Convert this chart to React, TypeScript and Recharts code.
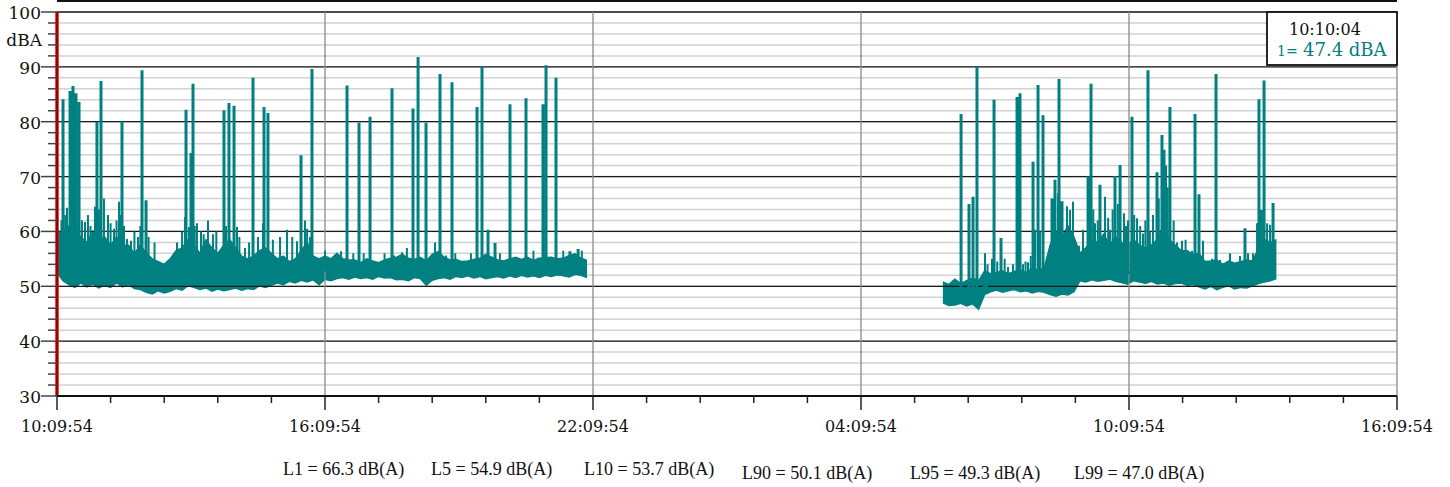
import {
  Area,
  CartesianGrid,
  ComposedChart,
  Line,
  ReferenceLine,
  XAxis,
  YAxis,
} from "recharts"

const TEAL = "#008080"
const SERIF = "'DejaVu Serif', serif"

// x axis: minutes from the start of the record (10:09:54)
const timeTicks = [
  0, 72, 144, 216, 288, 360, 432, 504, 576, 648, 720, 792, 864, 936, 1008, 1080,
  1152, 1224, 1296, 1368, 1440, 1512, 1584, 1656, 1728, 1800,
]
const timeLabels = ["10:09:54", "16:09:54", "22:09:54", "04:09:54", "10:09:54", "16:09:54"]
const hourLines = [360, 720, 1080, 1440, 1800]

const levelTicks = [
  30, 32, 34, 36, 38, 40, 42, 44, 46, 48, 50, 52, 54, 56, 58, 60, 62, 64, 66, 68,
  70, 72, 74, 76, 78, 80, 82, 84, 86, 88, 90, 92, 94, 96, 98, 100,
]
const majorLevels = [40, 50, 60, 70, 80, 90, 100]

// background level, min / max per 8-minute block
const blockMinutes = 8
const day1Start = 0
const day1Lo = [
  52.5, 51, 50.3, 49.8, 50.6, 49.9, 50.4, 49.7, 50.2, 49.8,
  50.6, 49.9, 50.3, 49.6, 49.4, 48.9, 48.6, 49.2, 48.8, 49.1,
  49.6, 49.3, 50.1, 49.8, 49.4, 49.7, 49.1, 49.5, 49.2, 49.4,
  49.7, 49.3, 49.6, 49.4, 50.1, 49.8, 50.2, 50.6, 50.3, 50.9,
  50.6, 51.1, 50.8, 51.2, 50.3, 51.3, 51, 51.4, 51.6, 51.3,
  51.7, 51.4, 51.6, 51.3, 51.8, 51.5, 51.6, 51.2, 51.3, 51,
  51.6, 51.4, 50.2, 51.1, 51.4, 51.6, 51.3, 51.8, 51.6, 51.9,
  51.5, 51.8, 51.4, 51.6, 51.8, 51.5, 51.9, 51.6, 52, 51.7,
  51.9, 51.6, 52, 51.8, 52.1, 51.9, 51.7, 52.2, 52, 51.6,
]
const day1Hi = [
  59.5, 60, 61, 60, 59, 58, 60, 58.5, 59, 57.5,
  59, 57.5, 57.5, 56, 57.5, 56, 55, 54.5, 54, 55,
  56.5, 57, 58.5, 57.5, 56, 58.5, 57, 56, 57.5, 58.5,
  57, 55.5, 55, 55.5, 56.5, 57, 56, 55, 55.5, 54.5,
  55, 56.5, 58, 55.5, 55, 55.5, 55, 56, 55, 54.8,
  54.8, 54.3, 55, 54.6, 54.3, 54.8, 55.1, 55.3, 55.8, 55.1,
  54.9, 55.3, 54.6, 55.8, 56.3, 55.3, 54.8, 54.9, 54.5, 54.6,
  54.9, 55.1, 55.8, 55.3, 54.8, 54.6, 55, 55.3, 54.9, 55.3,
  54.7, 55.1, 55.2, 55.3, 55, 55.1, 55.6, 55.9, 55.1, 54.7,
]
const day2Start = 1190
const day2Lo = [
  47, 46.5, 46.6, 46.9, 46.4, 46.8, 45.8, 48.5, 49, 49.3,
  48.9, 49.2, 49.4, 49, 49.2, 48.8, 49.1, 48.9, 48.5, 48.2,
  48.6, 48.4, 49, 51, 50.8, 51.2, 50.9, 51.1, 51.3, 50.9,
  50.7, 50.4, 51, 50.8, 50.5, 50.9, 50.4, 50.6, 50.2, 50.5,
  50.6, 50.2, 50.3, 49.9, 49.5, 50, 49.4, 49.8, 50.1, 49.5,
  49.8, 49.7, 50.1, 50.5, 50.8, 51, 51.4,
]
const day2Hi = [
  50.8, 50.3, 51.3, 50.5, 51, 51.5, 51, 52.8, 52.3, 52.5,
  52.8, 52.3, 52.7, 53, 52.5, 53.3, 52.9, 53.3, 57.5, 60,
  59, 61, 59, 56, 57, 58.5, 58, 59.5, 57.5, 59,
  58, 57.5, 58.5, 57.5, 57, 57.5, 58.5, 61, 58.5, 57.5,
  56.5, 56.5, 55.8, 56, 54.5, 54.6, 54.8, 54, 54.6, 54.2,
  54.5, 54.8, 54.6, 57, 58.5, 58, 58.5,
]

// loud events: [minute, level before the event, peak level]
const day1Events = [
  [8.1, 53, 84.1], [17.5, 53, 85.6], [21.5, 53, 86.5], [25.5, 53, 85.2], [29.6, 53, 83.6],
  [53.7, 53, 80], [59.1, 53, 87.4], [87.3, 53, 80.1], [114.2, 53, 89.4], [119.6, 53, 65.7],
  [173.3, 53, 82.2], [180, 53, 74.3], [182.7, 53, 86.9], [224.3, 53, 82.1], [231, 53, 83.4],
  [237.8, 53, 82.9], [263.3, 53, 88], [278.1, 53, 82.7], [283.4, 53, 81.6], [327.8, 53, 73.9],
  [342.5, 53, 89.6], [389.6, 53, 86.6], [405.7, 53, 79.8], [420.5, 53, 80.9], [450, 53, 86.1],
  [478.2, 53, 82.4], [485, 53, 91.8], [495.7, 53, 79.8], [514.5, 53, 88.7], [530.6, 53, 87.2],
  [564.2, 53, 82.7], [570.9, 53, 90], [579, 53, 60.3], [588.4, 53, 57.9], [608.5, 53, 83.2],
  [630, 53, 84.3], [652.8, 53, 83.2], [656.9, 53, 90.3], [670.3, 53, 88], [689, 53, 56.4],
  [700, 53, 56.8],
]
const day2Events = [
  [1214.4, 49, 81.4], [1225.1, 49, 65], [1230.5, 49, 66.3], [1235.8, 49, 90], [1258.7, 51, 84],
  [1268.1, 51, 58.8], [1289.6, 51, 84.5], [1293.6, 51, 85.2], [1311.1, 51, 72.7], [1317.8, 51, 86.7],
  [1324.5, 51, 81.2], [1336.6, 51, 66], [1340.6, 51, 69.4], [1346, 51, 87.8], [1350, 51, 65.5],
  [1385, 52.5, 70], [1389, 52.5, 86.9], [1401, 52.5, 68.5], [1421.2, 52.5, 70.1], [1428, 52.5, 72.1],
  [1444, 52.5, 80.9], [1465.5, 52.5, 89.4], [1477.6, 52.5, 70.8], [1484.3, 52.5, 77.6], [1487, 52.5, 74.9],
  [1495, 52.5, 82.7], [1528.7, 52.5, 81.4], [1534, 52.5, 66.8], [1556.9, 52.5, 88.7], [1595.8, 52.5, 60.6],
  [1614.6, 52.5, 84.1], [1617.3, 52.5, 63.9], [1621.4, 52.5, 87.5], [1633.5, 52.5, 65.2],
]

// smaller bursts above the background
const day1Bursts = [
  [1, 53, 60], [4, 53, 59.8], [6, 53, 62], [11, 53, 63], [13.4, 53, 64.3],
  [33.5, 53, 62], [37.6, 53, 61.7], [41.6, 53, 63], [45, 53, 61], [51, 53, 64.5],
  [56.5, 53, 64], [63.1, 53, 66], [68.5, 53, 63], [72, 53, 61.5], [76.6, 53, 60.5],
  [80, 53, 62], [83.3, 53, 65.4], [86, 53, 63], [90, 53, 61], [94, 53, 58.6],
  [99.4, 53, 58.3], [104, 53, 60], [108.8, 53, 59], [112, 53, 61], [123, 53, 59],
  [131, 53, 58], [161.2, 53, 58], [168, 53, 60], [172, 53, 62.6], [177.3, 53, 60.8],
  [185, 53, 61], [188, 53, 61.5], [193.4, 53, 60], [197, 53, 59.5], [202.8, 53, 62],
  [209.6, 53, 59.5], [214, 53, 60], [220.3, 53, 56.6], [227, 53, 61], [241.8, 53, 60.8],
  [245, 53, 59], [252.5, 53, 57], [258, 53, 58], [270, 53, 59], [276.7, 53, 61.5],
  [290, 53, 58.5], [299.6, 53, 59], [309, 53, 60.3], [316, 53, 59], [322.4, 53, 58.2],
  [333.1, 53, 62], [336, 53, 60.5], [339.9, 53, 59], [360, 53, 56.5], [381.5, 53, 56.4],
  [398, 53, 56], [412, 53, 56], [440, 53, 56], [452.7, 53, 55.6], [463.4, 53, 56.2],
  [470, 53, 57], [507.8, 53, 58], [522.5, 53, 55.6], [535, 53, 56], [556, 53, 56],
  [595, 53, 56], [619.3, 53, 54.8], [640, 53, 56.5], [646.1, 53, 55.2], [680, 53, 56.5],
  [705, 53, 56.5],
]
const day2Bursts = [
  [1246.6, 51, 56], [1250, 51, 54], [1256, 51, 55], [1263, 51, 54.5], [1273, 51, 55],
  [1277.5, 51, 53.5], [1284.2, 51, 54], [1297.6, 51, 54], [1301, 51, 54.5], [1304.3, 51, 54.4],
  [1308, 51, 55.5], [1313.7, 51, 60.3], [1320.4, 51, 60], [1329.9, 51, 54.5], [1344.7, 51, 66.9],
  [1356.7, 51, 64.6], [1360.8, 51, 63.9], [1364.8, 51, 65.4], [1372.9, 52.5, 57.4], [1378.2, 52.5, 60.3],
  [1392, 52.5, 64], [1394.3, 52.5, 61.5], [1398, 52.5, 62], [1407.8, 52.5, 66.3], [1412, 52.5, 62.5],
  [1414.5, 52.5, 60.3], [1418, 52.5, 64], [1425, 52.5, 65], [1433.3, 52.5, 63.3], [1436, 52.5, 61],
  [1438.7, 52.5, 62], [1447, 52.5, 63], [1450.8, 52.5, 62.4], [1455, 52.5, 61], [1458.8, 52.5, 59.6],
  [1462, 52.5, 62], [1468, 52.5, 60], [1472.2, 52.5, 63], [1480, 52.5, 66], [1489.7, 52.5, 72],
  [1492, 52.5, 68], [1500, 52.5, 62], [1504.5, 52.5, 58], [1511.2, 52.5, 58.3], [1516, 52.5, 58.5],
  [1519.3, 52.5, 56.5], [1524.7, 52.5, 56.5], [1539.4, 52.5, 58.3], [1551.5, 52.5, 55], [1562.3, 52.5, 54.8],
  [1575.7, 52.5, 56], [1589.1, 52.5, 55.5], [1599.9, 52.5, 56], [1606.6, 52.5, 56], [1612, 52.5, 61.5],
  [1625.5, 52.5, 61.5], [1629.5, 52.5, 61.2],
]

const statNames = ["L1", "L5", "L10", "L90", "L95", "L99"]
const statValues = [66.3, 54.9, 53.7, 50.1, 49.3, 47.0]
const statX = [283, 431, 584, 742, 910, 1074]
const statY = [475, 475, 475, 479, 479, 479]

const cursorTime = "10:10:04"
const cursorLevel = 47.4

const blocks = (start: number, lo: number[], hi: number[]) =>
  lo.map((l, i) => ({ t: start + i * blockMinutes, level: [l, hi[i]] }))

const peaks = (list: number[][]) =>
  list.flatMap(([t, base, peak]) => [
    { t, level: base },
    { t, level: peak },
    { t, level: base },
  ])

const bands = [blocks(day1Start, day1Lo, day1Hi), blocks(day2Start, day2Lo, day2Hi)]
const bursts = [peaks(day1Bursts), peaks(day2Bursts)]
const events = [peaks(day1Events), peaks(day2Events)]

function TimeTick({ x, y, payload }: any) {
  const major = payload.value % 360 === 0
  return (
    <g>
      <line x1={x} x2={x} y1={y} y2={y + (major ? 14 : 7)} stroke="#222" strokeWidth={1.5} />
      {major && (
        <text x={x} y={y + 36} textAnchor="middle" fontSize={16} fontFamily={SERIF} fill="#111">
          {timeLabels[payload.value / 360]}
        </text>
      )}
    </g>
  )
}

function LevelTick({ x, y, payload }: any) {
  const major = payload.value % 10 === 0
  return (
    <g>
      <line x1={x - (major ? 16 : 9)} x2={x} y1={y} y2={y} stroke="#444" strokeWidth={1.5} />
      {major && (
        <text x={x - 16} y={y + 7} textAnchor="end" fontSize={17} fontFamily={SERIF} fill="#111">
          {payload.value}
        </text>
      )}
    </g>
  )
}

export default function App() {
  return (
    <div
      style={{
        position: "absolute",
        left: 0,
        top: 0,
        width: 1450,
        height: 487,
        background: "#fff",
      }}
    >
      <ComposedChart width={1450} height={440} margin={{ top: 12, right: 53, bottom: 0, left: 0 }}>
        <CartesianGrid horizontal vertical={false} stroke="#d2d2d2" strokeWidth={1.5} />
        {majorLevels.map((v) => (
          <ReferenceLine key={v} y={v} stroke="#1a1a1a" strokeWidth={1.3} />
        ))}
        {hourLines.map((t) => (
          <ReferenceLine key={t} x={t} stroke="#8a8a8a" strokeWidth={1.3} />
        ))}
        <XAxis
          dataKey="t"
          type="number"
          domain={[0, 1800]}
          ticks={timeTicks}
          interval={0}
          tick={(p: any) => <TimeTick {...p} />}
          tickLine={false}
          tickSize={0}
          tickMargin={0}
          height={44}
          axisLine={{ stroke: "#111", strokeWidth: 2 }}
          allowDataOverflow
        />
        <YAxis
          type="number"
          domain={[30, 100]}
          ticks={levelTicks}
          interval={0}
          tick={(p: any) => <LevelTick {...p} />}
          tickLine={false}
          tickSize={0}
          tickMargin={0}
          width={57}
          axisLine={{ stroke: "#111" }}
          allowDataOverflow
        />
        {bands.map((d, i) => (
          <Area
            key={`band${i}`}
            data={d}
            dataKey="level"
            type="linear"
            stroke={TEAL}
            strokeWidth={1.5}
            fill={TEAL}
            fillOpacity={1}
            dot={false}
            activeDot={false}
            isAnimationActive={false}
          />
        ))}
        {bursts.map((d, i) => (
          <Line
            key={`burst${i}`}
            data={d}
            dataKey="level"
            type="linear"
            stroke={TEAL}
            strokeWidth={2}
            strokeLinejoin="miter"
            dot={false}
            activeDot={false}
            isAnimationActive={false}
          />
        ))}
        {events.map((d, i) => (
          <Line
            key={`event${i}`}
            data={d}
            dataKey="level"
            type="linear"
            stroke={TEAL}
            strokeWidth={3}
            strokeLinejoin="miter"
            dot={false}
            activeDot={false}
            isAnimationActive={false}
          />
        ))}
        <ReferenceLine x={0} stroke="#ff0000" strokeWidth={3.5} />
      </ComposedChart>

      <svg
        width={1450}
        height={487}
        style={{ position: "absolute", left: 0, top: 0, pointerEvents: "none" }}
      >
        <line x1={57} x2={1397} y1={1} y2={1} stroke="#111" strokeWidth={2} />
        <text x={42} y={46} textAnchor="end" fontSize={17} fontFamily={SERIF} fill="#111">
          dBA
        </text>

        <rect x={1267} y={12} width={130} height={53} fill="#fff" stroke="#111" strokeWidth={1.8} />
        <text x={1289} y={35} fontSize={16} fontFamily={SERIF} fill="#111">
          {cursorTime}
        </text>
        <text x={1277} y={56} fontSize={14} fontFamily={SERIF} fill={TEAL}>
          1=
        </text>
        <text x={1303} y={56} fontSize={18} fontFamily={SERIF} fill={TEAL}>
          {`${cursorLevel.toFixed(1)} dBA`}
        </text>

        {statNames.map((name, i) => (
          <text
            key={name}
            x={statX[i]}
            y={statY[i]}
            fontSize={18}
            fontFamily="'Liberation Serif', 'Times New Roman', serif"
            fill="#111"
          >
            {`${name} = ${statValues[i].toFixed(1)} dB(A)`}
          </text>
        ))}
      </svg>
    </div>
  )
}
